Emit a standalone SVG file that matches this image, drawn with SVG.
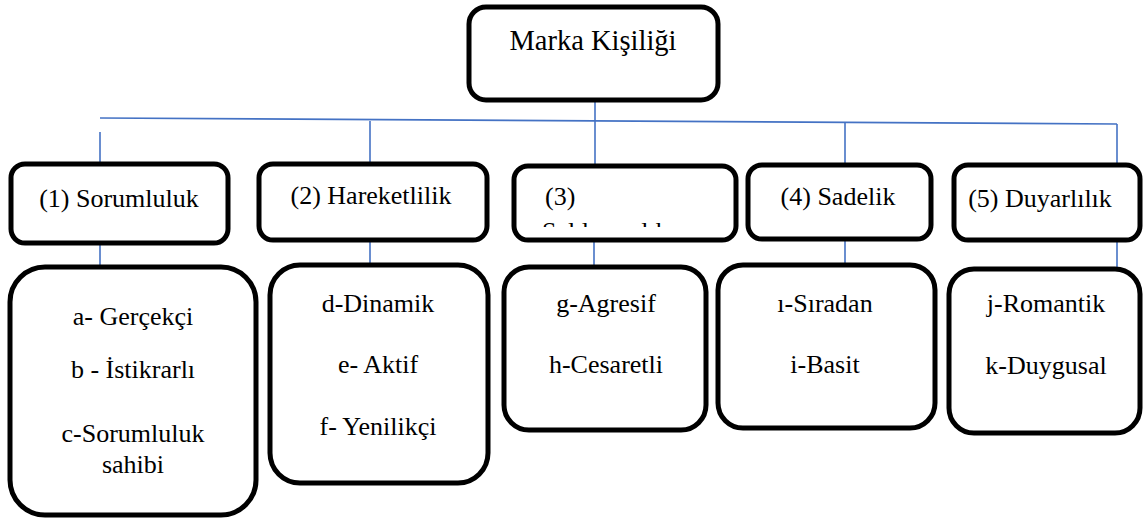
<svg xmlns="http://www.w3.org/2000/svg" width="1143" height="519" viewBox="0 0 1143 519">
<style>
  .box { fill: #ffffff; stroke: #000000; stroke-width: 5; }
  text { font-family: 'Liberation Serif', 'Times New Roman', serif; font-size: 26px; fill: #000000; }
  .t { text-anchor: middle; }
  .c { stroke: #4472C4; stroke-width: 1.6; fill: none; }
</style>
<defs>
  <clipPath id="clip3"><rect x="517" y="168" width="216" height="59"/></clipPath>
</defs>
<rect width="1143" height="519" fill="#ffffff"/>
<g id="connectors">
  <line class="c" x1="100" y1="118" x2="1117" y2="124"/>
  <line class="c" x1="595" y1="100" x2="595" y2="164"/>
  <line class="c" x1="100" y1="132" x2="100" y2="162"/>
  <line class="c" x1="370" y1="121" x2="370" y2="162"/>
  <line class="c" x1="845" y1="122" x2="845" y2="163"/>
  <line class="c" x1="1117" y1="124" x2="1117" y2="163"/>
  <line class="c" x1="100" y1="245" x2="100" y2="265"/>
  <line class="c" x1="370" y1="242" x2="370" y2="263"/>
  <line class="c" x1="594" y1="242" x2="594" y2="265"/>
  <line class="c" x1="845" y1="241" x2="845" y2="263"/>
  <line class="c" x1="1117" y1="240" x2="1117" y2="267"/>
</g>
<g id="node-root">
  <rect class="box" x="469" y="7" width="249" height="93" rx="17"/>
  <text class="t" x="593" y="50" style="font-size:28.5px">Marka Kişiliği</text>
</g>
<g id="node-1">
  <rect class="box" x="11" y="164" width="217" height="79" rx="14"/>
  <text class="t" x="119" y="207">(1) Sorumluluk</text>
</g>
<g id="node-2">
  <rect class="box" x="259" y="164" width="228" height="76" rx="14"/>
  <text class="t" x="371" y="204">(2) Hareketlilik</text>
</g>
<g id="node-3">
  <rect class="box" x="514" y="166" width="222" height="74" rx="14"/>
  <text x="545" y="205">(3)</text>
  <text x="542" y="240" clip-path="url(#clip3)">Saldırganlık</text>
</g>
<g id="node-4">
  <rect class="box" x="748" y="165" width="183" height="74" rx="14"/>
  <text class="t" x="838" y="205">(4) Sadelik</text>
</g>
<g id="node-5">
  <rect class="box" x="954" y="165" width="186" height="75" rx="14"/>
  <text class="t" x="1040" y="207">(5) Duyarlılık</text>
</g>
<g id="node-a">
  <rect class="box" x="10" y="267" width="246" height="248" rx="35"/>
  <text class="t" x="133" y="325">a- Gerçekçi</text>
  <text class="t" x="133" y="378">b - İstikrarlı</text>
  <text class="t" x="133" y="442">c-Sorumluluk</text>
  <text class="t" x="133" y="473">sahibi</text>
</g>
<g id="node-d">
  <rect class="box" x="270" y="265" width="218" height="218" rx="30"/>
  <text class="t" x="378" y="312">d-Dinamik</text>
  <text class="t" x="378" y="373">e- Aktif</text>
  <text class="t" x="378" y="435">f- Yenilikçi</text>
</g>
<g id="node-g">
  <rect class="box" x="504" y="267" width="202" height="163" rx="25"/>
  <text class="t" x="606" y="312">g-Agresif</text>
  <text class="t" x="606" y="373">h-Cesaretli</text>
</g>
<g id="node-i">
  <rect class="box" x="718" y="265" width="217" height="163" rx="25"/>
  <text class="t" x="825" y="312">ı-Sıradan</text>
  <text class="t" x="825" y="373">i-Basit</text>
</g>
<g id="node-j">
  <rect class="box" x="949" y="269" width="191" height="164" rx="25"/>
  <text class="t" x="1046" y="312">j-Romantik</text>
  <text class="t" x="1046" y="374">k-Duygusal</text>
</g>
</svg>
